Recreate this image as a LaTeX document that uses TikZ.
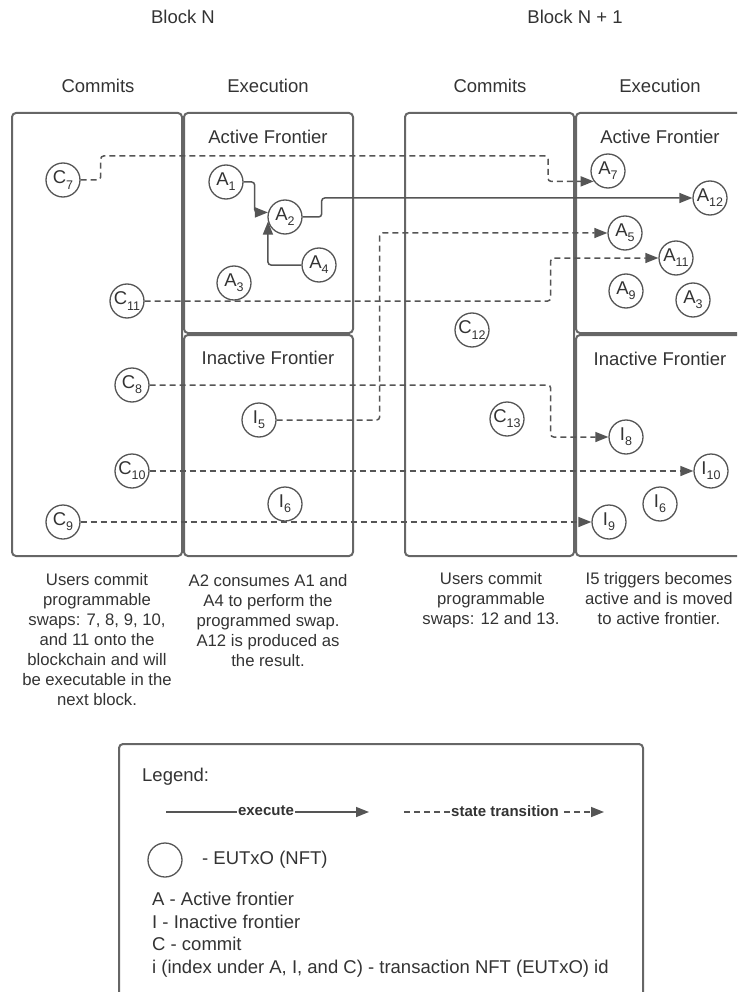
\documentclass[tikz,border=0pt]{standalone}
\usepackage{fontspec}
\setmainfont{Liberation Sans}
\usetikzlibrary{arrows.meta}
\definecolor{ink}{HTML}{333333}
\definecolor{frame}{HTML}{666666}
\definecolor{wire}{HTML}{555555}
% letter with a lowered index, centred without widening the circle
\newcommand{\nft}[2]{\makebox[0pt][c]{#1\raisebox{-0.28em}{\fontsize{12.5}{12.5}\selectfont #2}}}
\begin{document}
\begin{tikzpicture}[x=1pt,y=-1pt,
  every node/.style={text=ink},
  nft/.style={circle, draw=wire, line width=1.3pt, minimum size=34pt, inner sep=0pt,
              font=\fontsize{18.5}{20}\selectfont},
  panel/.style={draw=frame, line width=2pt, rounded corners=4pt},
  exec/.style={draw=wire, line width=1.5pt, rounded corners=3pt,
               -{Triangle[length=13pt,width=10pt]}},
  trans/.style={exec, dash pattern=on 6pt off 4pt},
  head/.style={font=\fontsize{18.5}{22}\selectfont},
  note/.style={font=\fontsize{16.7}{20}\selectfont, align=center, anchor=north, inner sep=0pt},
  keytext/.style={font=\bfseries\fontsize{15}{15}\selectfont, fill=white, inner sep=1pt},
  row/.style={head, anchor=base west, inner sep=0pt},
]
\useasboundingbox (0,0) rectangle (737,992);
\clip (0,0) rectangle (737,992);

% headings
\node[head] (bN)  at (183,17) {Block N};
\node[head] (bN1) at (575,17) {Block N + 1};
\node[head] (cm1) at (98,86)  {Commits};
\node[head] (ex1) at (268,86) {Execution};
\node[head] (cm2) at (490,86) {Commits};
\node[head] (ex2) at (660,86) {Execution};

% panels of block N
\draw[panel] (12,113) rectangle (182,556);
\draw[panel] (184,113) rectangle (353,333);
\draw[panel] (184,335) rectangle (353,556);
% panels of block N + 1
\draw[panel] (405,113) rectangle (574,556);
\draw[panel] (576,113) rectangle (760,333);
\draw[panel] (576,335) rectangle (760,556);

\node[head] (af1) at (268,137) {Active Frontier};
\node[head] (if1) at (268,358) {Inactive Frontier};
\node[head] (af2) at (660,137) {Active Frontier};
\node[head] (if2) at (660,359) {Inactive Frontier};

% block N: commits
\node[nft] (C7)  at (63,180)  {\nft{C}{7}};
\node[nft] (C11) at (127,301) {\nft{C}{11}};
\node[nft] (C8)  at (132,385) {\nft{C}{8}};
\node[nft] (C10) at (132,471) {\nft{C}{10}};
\node[nft] (C9)  at (63,522)  {\nft{C}{9}};
% block N: active frontier
\node[nft] (A1) at (226,182) {\nft{A}{1}};
\node[nft] (A2) at (285,217) {\nft{A}{2}};
\node[nft] (A4) at (319,265) {\nft{A}{4}};
\node[nft] (A3) at (234,283) {\nft{A}{3}};
% block N: inactive frontier
\node[nft] (I5) at (259,420) {\nft{I}{5}};
\node[nft] (I6) at (285,504) {\nft{I}{6}};

% block N + 1: commits
\node[nft] (C12) at (472,330) {\nft{C}{12}};
\node[nft] (C13) at (507,419) {\nft{C}{13}};
% block N + 1: active frontier
\node[nft] (A7)  at (608,171) {\nft{A}{7}};
\node[nft] (A12) at (710,198) {\nft{A}{12}};
\node[nft] (A5)  at (625,233) {\nft{A}{5}};
\node[nft] (A11) at (676,258) {\nft{A}{11}};
\node[nft] (A9)  at (626,291) {\nft{A}{9}};
\node[nft] (A3b) at (693,300) {\nft{A}{3}};
% block N + 1: inactive frontier
\node[nft] (I8)  at (626,437) {\nft{I}{8}};
\node[nft] (I10) at (711,471) {\nft{I}{10}};
\node[nft] (I6b) at (660,504) {\nft{I}{6}};
\node[nft] (I9)  at (609,522) {\nft{I}{9}};

% execution of the programmed swap
\draw[exec] (A1.east) -- ++(11,0) |- (A2.165);
\draw[exec] (A4.west) -| (A2.195);
\draw[exec] (A2.east) -- ++(19,0) |- (A12.west);

% state transitions into block N + 1
\draw[trans] (C7.east) -- ++(20,0) |- (548,156) |- (A7.216);
\draw[trans] (C11.east) -- ++(406,0) |- (A11.west);
\draw[trans] (I5.east) -- ++(103,0) |- (A5.west);
\draw[trans] (C8.east) -- ++(401,0) |- (I8.west);
\draw[trans] (C10.east) -- (I10.west);
\draw[trans] (C9.east) -- (I9.west);

% notes under the panels
\node[note] (d1) at (97,573) {Users commit\\programmable\\swaps: 7, 8, 9, 10,\\and 11 onto the\\blockchain and will\\be executable in the\\next block.};
\node[note] (d2) at (268,574) {A2 consumes A1 and\\A4 to perform the\\programmed swap.\\A12 is produced as\\the result.};
\node[note] (d3) at (491,572) {Users commit\\programmable\\swaps: 12 and 13.};
\node[note] (d4) at (659,572) {I5 triggers becomes\\active and is moved\\to active frontier.};

% legend
\draw[panel] (119,744) rectangle (643,1010);
\node[row] (lg) at (142,781) {Legend:};
\coordinate (k1a) at (166,812);
\coordinate (k1b) at (369,812);
\coordinate (k2a) at (404,812);
\coordinate (k2b) at (604,812);
\draw[exec] (k1a) -- (k1b);
\node[keytext] (k1) at (266,811) {execute};
\draw[trans] (k2a) -- (k2b);
\node[keytext] (k2) at (505,811) {state transition};
\node[nft] (key) at (165,860) {};
\node[row] (kt) at (202,864) {- EUTxO (NFT)};
\node[row] (r1) at (152,905.5) {A - Active frontier};
\node[row] (r2) at (152,928) {I - Inactive frontier};
\node[row] (r3) at (152,950.5) {C - commit};
\node[row] (r4) at (152,973) {i (index under A, I, and C) - transaction NFT (EUTxO) id};
\end{tikzpicture}
\end{document}
